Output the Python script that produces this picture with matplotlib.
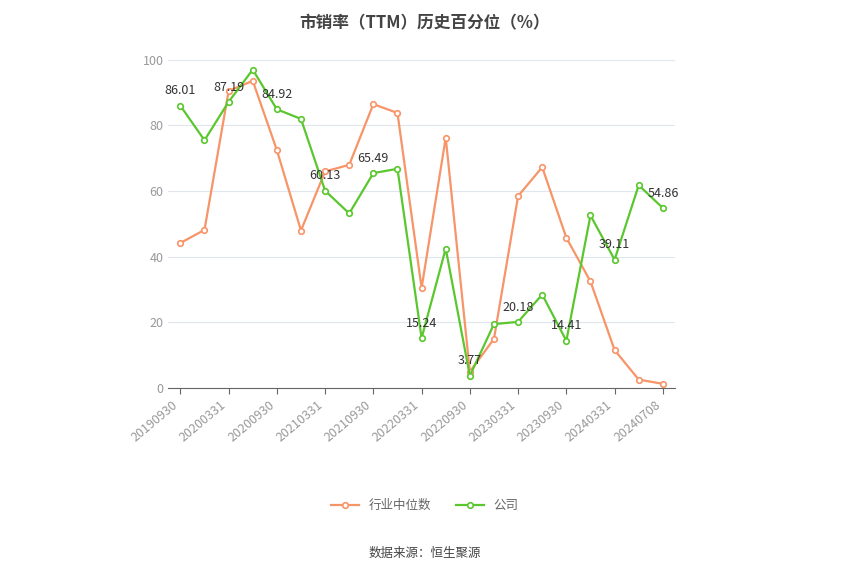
import matplotlib
matplotlib.use("Agg")
import matplotlib.pyplot as plt

plt.rcParams['font.family'] = ['Noto Sans CJK SC', 'DejaVu Sans']

dates = ["20190930","20191231","20200331","20200630","20200930","20201231","20210331","20210630",
         "20210930","20211231","20220331","20220630","20220930","20221231","20230331","20230630",
         "20230930","20231231","20240331","20240630","20240708"]
company = [86.01,75.5,87.19,97.0,84.92,82.0,60.13,53.2,65.49,66.8,15.24,42.5,3.77,19.5,20.18,28.5,14.41,52.6,39.11,61.8,54.86]
industry = [44.2,48.2,90.5,93.6,72.5,48.0,66.0,68.0,86.5,83.8,30.5,76.3,5.0,15.0,58.5,67.3,45.8,32.5,11.6,2.6,1.3]

fig = plt.figure(figsize=(8.5,5.75), dpi=100)
ax = fig.add_axes([0.198,0.325,0.596,0.571])
x = list(range(len(dates)))
green = '#5ac72e'; orange = '#f79468'
ax.plot(x, industry, color=orange, lw=1.6, marker='o', ms=4, mfc='white', mec=orange, mew=1.2, label='行业中位数', zorder=2)
ax.plot(x, company, color=green, lw=1.6, marker='o', ms=4, mfc='white', mec=green, mew=1.2, label='公司', zorder=3)
for i in range(0, len(x), 2):
    ax.annotate(f"{company[i]:.2f}", (x[i], company[i]), xytext=(0,6), textcoords='offset points',
                ha='center', va='bottom', fontsize=9, color='#333333', zorder=4)
ax.set_ylim(0,100)
ax.set_xlim(-0.5, len(x)-0.5)
ax.set_yticks(range(0,101,20))
ax.set_xticks(x[::2])
ax.set_xticklabels(dates[::2], rotation=40, ha='right', fontsize=9, color='#999999')
ax.tick_params(axis='y', labelsize=9, colors='#999999', length=0)
ax.tick_params(axis='x', length=4, color='#666666')
ax.grid(axis='y', color='#e0e6f0', lw=0.8)
for s in ['top','right','left']:
    ax.spines[s].set_visible(False)
ax.spines['bottom'].set_color('#666666')
ax.set_axisbelow(True)
fig.text(0.5, 0.975, '市销率（TTM）历史百分位（%）', ha='center', va='top', fontsize=12, fontweight='bold', color='#444444')
fig.legend(loc='center', bbox_to_anchor=(0.5, 0.121), ncol=2, frameon=False, fontsize=9,
           labelcolor='#666666', handlelength=2.2, columnspacing=2)
fig.text(0.5, 0.038, '数据来源：恒生聚源', ha='center', va='center', fontsize=9, color='#444444')
fig.savefig('out.png', dpi=100)
